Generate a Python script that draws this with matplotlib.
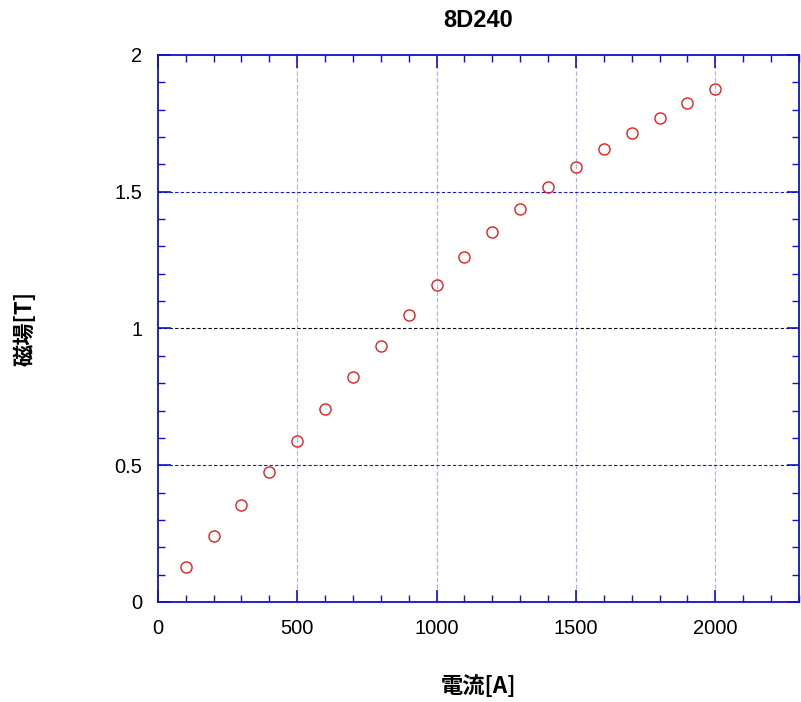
import matplotlib

matplotlib.use("Agg")
import matplotlib.pyplot as plt
from matplotlib.ticker import MultipleLocator

plt.rcParams["font.family"] = ["Liberation Sans", "Noto Sans CJK JP", "DejaVu Sans"]

# 電流 [A] vs 磁場 [T]
current = [100, 200, 300, 400, 500, 600, 700, 800, 900, 1000,
           1100, 1200, 1300, 1400, 1500, 1600, 1700, 1800, 1900, 2000]
field = [0.128, 0.241, 0.355, 0.475, 0.589, 0.706, 0.823, 0.936, 1.049, 1.159,
         1.261, 1.353, 1.437, 1.517, 1.590, 1.656, 1.715, 1.770, 1.824, 1.876]

title = "8D240"
xlabel = "電流[A]"
ylabel = "磁場[T]"
yticks = [0, 0.5, 1, 1.5, 2]
yticklabels = ["0", "0.5", "1", "1.5", "2"]

fig = plt.figure(figsize=(8.01, 7.02), dpi=100)
fig.patch.set_facecolor("white")
ax = fig.add_axes([0.197, 0.1425, 0.8005, 0.7792])

# grid
for xv in [500, 1000, 1500, 2000]:
    ax.axvline(xv, color="#b0b0f0", lw=0.8, ls=(0, (4, 2)), zorder=1)
for yv, c in [(0.5, "#1515d0"), (1.0, "#000000"), (1.5, "#1515d0")]:
    ax.axhline(yv, color=c, lw=0.8, ls=(0, (3, 2)), zorder=1)

ax.plot(current, field, ls="none", marker="o", ms=8, mfc="none",
        mec="#e02020", mew=1.0, zorder=3)

ax.set_xlim(0, 2300)
ax.set_ylim(0, 2)
ax.xaxis.set_major_locator(MultipleLocator(500))
ax.xaxis.set_minor_locator(MultipleLocator(100))
ax.set_yticks(yticks)
ax.set_yticklabels(yticklabels)
ax.yaxis.set_minor_locator(MultipleLocator(0.1))

ax.tick_params(which="both", direction="in", top=True, right=True,
               color="#1010d0", labelsize=14.5)
ax.tick_params(which="major", length=9, width=1.2)
ax.tick_params(which="minor", length=5, width=1.0)
ax.tick_params(axis="x", pad=12)
ax.tick_params(axis="y", pad=11)

for sp in ax.spines.values():
    sp.set_color("#1010d0")
    sp.set_linewidth(1.3)
    sp.set_linestyle((0, (3, 1)))

ax.set_title(title, fontsize=17, fontweight="bold", pad=20)
ax.set_xlabel(xlabel, fontsize=16, fontweight="bold", labelpad=27,
              family=["Noto Sans CJK JP", "DejaVu Sans"])
ax.set_ylabel(ylabel, fontsize=16, fontweight="bold", labelpad=56,
              family=["Noto Sans CJK JP", "DejaVu Sans"])

fig.savefig("out.png", dpi=100, facecolor="white")
